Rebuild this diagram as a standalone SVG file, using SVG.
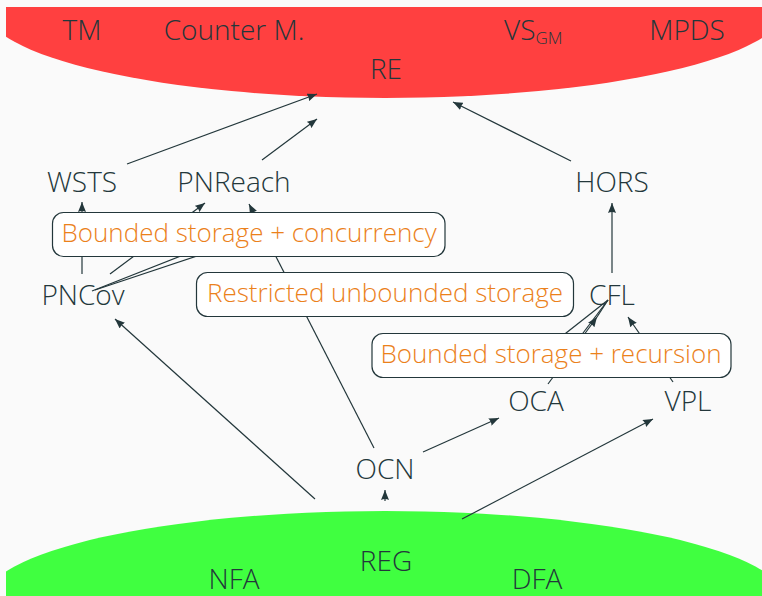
<svg xmlns="http://www.w3.org/2000/svg" width="762" height="596" viewBox="0 0 762 596">
<defs>
<style>
.t{font-family:"Open Sans","Noto Sans",sans-serif;font-weight:350;font-size:28px;fill:#23373B;text-anchor:middle}
.o{fill:#EB811B;font-size:26px}
.e{stroke:#23373B;stroke-width:1.2;fill:none}
.a{marker-end:url(#ah)}
.box{fill:#FFFFFF;stroke:#23373B;stroke-width:1.2}
</style>
<marker id="ah" viewBox="0 0 10 8" refX="10" refY="4" markerWidth="10" markerHeight="8" markerUnits="userSpaceOnUse" orient="auto">
<path d="M0,0 L10,4 L0,8 Q2,4 0,0Z" fill="#23373B"/>
</marker>
<clipPath id="clip"><rect x="6" y="7" width="756" height="589"/></clipPath>
</defs>
<rect width="762" height="596" fill="#FAFAFA"/>
<g id="RE">
<ellipse cx="385" cy="7" rx="401" ry="91" fill="#FF4040" clip-path="url(#clip)"/>
<text class="t" x="82" y="40">TM</text>
<text class="t" x="234" y="40">Counter M.</text>
<text class="t" x="504" y="40" style="text-anchor:start">VS<tspan font-size="17" dy="4">GM</tspan></text>
<text class="t" x="687" y="40">MPDS</text>
<text class="t" x="386" y="79">RE</text>
</g>
<g id="REG">
<ellipse cx="385" cy="601" rx="401" ry="90" fill="#40FF40" clip-path="url(#clip)"/>
<text class="t" x="386" y="571">REG</text>
<text class="t" x="234" y="589">NFA</text>
<text class="t" x="537" y="589">DFA</text>
</g>
<g id="connectors">
<line class="e a" x1="127" y1="164" x2="317" y2="94"/>
<line class="e a" x1="262" y1="160" x2="317" y2="119"/>
<line class="e a" x1="571" y1="161" x2="453" y2="102"/>
<line class="e a" x1="612" y1="273" x2="612" y2="203"/>
<line class="e a" x1="82" y1="274" x2="82" y2="202"/>
<line class="e a" x1="110" y1="274" x2="205" y2="203"/>
<line class="e a" x1="374" y1="448" x2="249" y2="204"/>
<line class="e a" x1="315" y1="499" x2="115" y2="319"/>
<line class="e a" x1="385" y1="501" x2="385" y2="490"/>
<line class="e a" x1="423" y1="452" x2="499" y2="418"/>
<line class="e a" x1="462" y1="519" x2="653" y2="419"/>
<line class="e a" x1="673" y1="382" x2="628" y2="317"/>
<line class="e a" x1="548" y1="384" x2="597" y2="317"/>
<line class="e" x1="597" y1="317" x2="608" y2="300"/>
<line class="e" x1="92" y1="291" x2="196" y2="250"/>
<line class="e" x1="95" y1="290" x2="215" y2="250"/>
<line class="e" x1="608" y1="300" x2="561" y2="337"/>
<line class="e" x1="608" y1="300" x2="580" y2="337"/>
</g>
<g id="label-concurrency">
<rect class="box" x="52.5" y="212.5" width="392.5" height="44" rx="11"/>
<text class="t o" x="249" y="242">Bounded storage + concurrency</text>
</g>
<g id="label-restricted">
<rect class="box" x="196.5" y="272.5" width="377" height="44" rx="11"/>
<text class="t o" x="385" y="302">Restricted unbounded storage</text>
</g>
<g id="label-recursion">
<rect class="box" x="372" y="333.5" width="359" height="44" rx="11"/>
<text class="t o" x="551" y="363">Bounded storage + recursion</text>
</g>
<g id="WSTS"><text class="t" x="82" y="192">WSTS</text></g>
<g id="PNReach"><text class="t" x="234" y="192">PNReach</text></g>
<g id="HORS"><text class="t" x="612" y="192">HORS</text></g>
<g id="PNCov"><text class="t" x="83" y="305">PNCov</text></g>
<g id="CFL"><text class="t" x="612" y="305">CFL</text></g>
<g id="OCA"><text class="t" x="536" y="411">OCA</text></g>
<g id="VPL"><text class="t" x="688" y="411">VPL</text></g>
<g id="OCN"><text class="t" x="385" y="479">OCN</text></g>
</svg>
